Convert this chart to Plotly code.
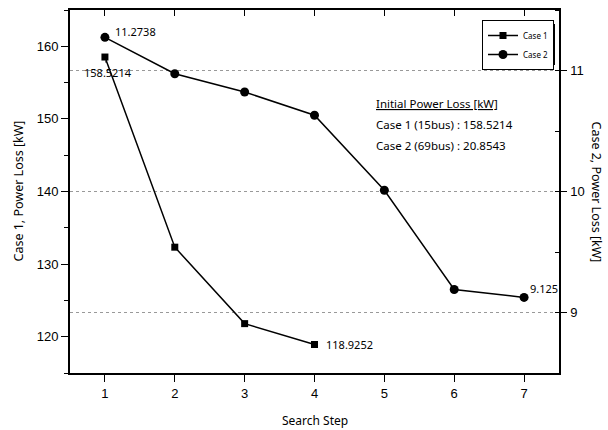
import plotly.graph_objects as go

steps_case1 = [1, 2, 3, 4]
loss_case1 = [158.5214, 132.33, 121.8, 118.9252]
steps_case2 = [1, 2, 3, 4, 5, 6, 7]
loss_case2 = [11.2738, 10.973, 10.822, 10.63, 10.01, 9.19, 9.125]

x_ticks = [1, 2, 3, 4, 5, 6, 7]
left_ticks = [120, 130, 140, 150, 160]
right_ticks = [9, 10, 11]

info_lines = ["Initial Power Loss [kW]",
              "Case 1 (15bus) : 158.5214",
              "Case 2 (69bus) : 20.8543"]

TXT = "Noto Sans"
NUM = "Liberation Sans"

fig = go.Figure()
fig.add_trace(go.Scatter(x=steps_case1, y=loss_case1, name="Case 1", mode="lines+markers",
                         line=dict(color="black", width=1.5),
                         marker=dict(symbol="square", size=7, color="black"),
                         xaxis="x", yaxis="y"))
fig.add_trace(go.Scatter(x=steps_case2, y=loss_case2, name="Case 2", mode="lines+markers",
                         line=dict(color="black", width=1.5),
                         marker=dict(symbol="circle", size=9, color="black"),
                         xaxis="x", yaxis="y2"))
# invisible helper so the mirrored top axis is drawn
fig.add_trace(go.Scatter(x=steps_case1, y=loss_case1, mode="markers", showlegend=False,
                         marker=dict(opacity=0), hoverinfo="skip",
                         xaxis="x2", yaxis="y"))

ann = []
ann.append(dict(x=steps_case2[0], y=loss_case2[0], xref="x", yref="y2", text="11.2738",
                showarrow=False, xanchor="left", yanchor="middle", xshift=8, yshift=6,
                font=dict(family=TXT, size=11, color="black")))
ann.append(dict(x=steps_case1[0], y=loss_case1[0], xref="x", yref="y", text="158.5214",
                showarrow=True, arrowhead=0, arrowwidth=0.8, arrowcolor="black",
                ax=3, ay=15, standoff=4,
                font=dict(family=TXT, size=11, color="black")))
ann.append(dict(x=steps_case1[-1], y=loss_case1[-1], xref="x", yref="y", text="118.9252",
                showarrow=False, xanchor="left", yanchor="middle", xshift=9,
                font=dict(family=TXT, size=11, color="black")))
ann.append(dict(x=steps_case2[-1], y=loss_case2[-1], xref="x", yref="y2", text="9.125",
                showarrow=False, xanchor="left", yanchor="middle", xshift=4, yshift=9,
                font=dict(family=TXT, size=11, color="black")))
info_y = [103, 124, 145]
for i, t in enumerate(info_lines):
    txt = "<u>%s</u>" % t if i == 0 else t
    ann.append(dict(x=(374 - 70) / 489, y=1 - (info_y[i] - 10) / 363, xref="paper", yref="paper",
                    text=txt, showarrow=False, xanchor="left", yanchor="middle",
                    font=dict(family=TXT, size=11.5, color="black")))
ann.append(dict(x=0, y=0.5, xref="paper", yref="paper", text="Case 1, Power Loss [kW]",
                showarrow=False, textangle=-90, xanchor="center", yanchor="middle",
                xshift=-52, font=dict(family=TXT, size=12.5, color="black")))
ann.append(dict(x=1, y=0.5, xref="paper", yref="paper", text="Case 2, Power Loss [kW]",
                showarrow=False, textangle=90, xanchor="center", yanchor="middle",
                xshift=37, font=dict(family=TXT, size=12.5, color="black")))
ann.append(dict(x=0.5, y=0, xref="paper", yref="paper", text="Search Step",
                showarrow=False, xanchor="center", yanchor="middle",
                yshift=-47, font=dict(family=TXT, size=12, color="black")))

# drop shadow behind the legend box
shadow = dict(type="rect", xref="paper", yref="paper", layer="above",
              x0=(486 - 70) / 489, x1=(555 - 70) / 489,
              y0=1 - (65 - 10) / 363, y1=1 - (24 - 10) / 363,
              fillcolor="black", line=dict(width=0))

fig.update_layout(
    width=608, height=430,
    margin=dict(l=70, r=49, t=10, b=57),
    plot_bgcolor="white", paper_bgcolor="white",
    showlegend=True,
    legend=dict(x=(482 - 70) / 489, y=1 - (20 - 10) / 363, xanchor="left", yanchor="top",
                bgcolor="white", bordercolor="black", borderwidth=1,
                font=dict(family=TXT, size=8, color="black"),
                itemwidth=30, tracegroupgap=0),
    shapes=[shadow],
    xaxis=dict(range=[0.5, 7.5], tickvals=x_ticks, ticks="outside", ticklen=7, tickwidth=1.2,
               tickcolor="black", showline=True, linecolor="black", linewidth=2,
               showgrid=False, zeroline=False,
               tickfont=dict(family=NUM, size=13, color="black")),
    xaxis2=dict(range=[0.5, 7.5], tickvals=x_ticks, overlaying="x", side="top", anchor="y",
                ticks="inside", ticklen=6, tickwidth=1.2, tickcolor="black",
                showticklabels=False, showline=True, linecolor="black", linewidth=2,
                showgrid=False, zeroline=False),
    yaxis=dict(range=[115, 165], tickvals=left_ticks, ticks="outside", ticklen=7, tickwidth=1.2,
               tickcolor="black", showline=True, linecolor="black", linewidth=2,
               showgrid=False, zeroline=False,
               minor=dict(dtick=5, ticks="outside", ticklen=4, tickcolor="black", showgrid=False),
               tickfont=dict(family=NUM, size=13, color="black")),
    yaxis2=dict(range=[8.5, 11.5], tickvals=right_ticks, overlaying="y", side="right", anchor="x",
                ticks="outside", ticklen=6, tickwidth=1.2, tickcolor="black",
                ticklabelstandoff=1,
                showline=True, linecolor="black", linewidth=1.5,
                showgrid=True, gridcolor="#999999", griddash="dot", gridwidth=1,
                zeroline=False,
                minor=dict(dtick=0.5, ticks="inside", ticklen=4, tickcolor="black", showgrid=False),
                tickfont=dict(family=NUM, size=13, color="black")),
    annotations=ann,
)

fig.write_html("out.html", config={"displayModeBar": False},
               post_script="document.body.style.margin='0';")
